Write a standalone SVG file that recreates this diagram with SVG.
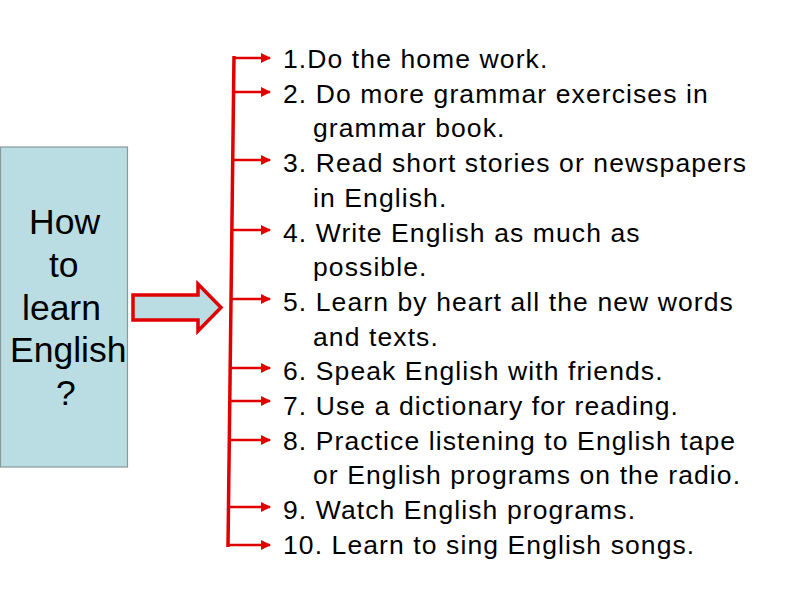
<svg xmlns="http://www.w3.org/2000/svg" width="800" height="600" viewBox="0 0 800 600">
<defs>
<marker id="ah" viewBox="0 0 10 10" refX="9" refY="5" markerWidth="4" markerHeight="4" orient="auto" markerUnits="strokeWidth">
<path d="M0,0 L10,5 L0,10 z" fill="#e00000"/>
</marker>
<style>
.t{font-family:"Liberation Sans",Arial,sans-serif;font-size:26.5px;letter-spacing:1.1px;fill:#000}
.b{font-family:"Liberation Sans",Arial,sans-serif;font-size:35.5px;fill:#000}
.br{stroke:#e00000;stroke-width:2.5;fill:none;marker-end:url(#ah)}
</style>
</defs>
<rect width="800" height="600" fill="#fff"/>
<g id="topic">
<rect x="0.5" y="147" width="127" height="320" fill="#b9dde2" stroke="#8a9a9c" stroke-width="1.2"/>
<text class="b" x="29" y="234">How</text>
<text class="b" x="49" y="277">to</text>
<text class="b" x="22" y="320">learn</text>
<text class="b" x="10" y="362">English</text>
<text class="b" x="56" y="405">?</text>
</g>
<g id="big-arrow">
<polygon points="133,295 198,295 198,284 221,307.5 198,331 198,320 133,320" fill="#b9dde2" stroke="#e00000" stroke-width="3.5" stroke-linejoin="miter"/>
</g>
<g id="connectors">
<line x1="234" y1="56" x2="228" y2="547" stroke="#e00000" stroke-width="3.5"/>
<line class="br" x1="234" y1="58" x2="270" y2="58"/>
<line class="br" x1="233.6" y1="92" x2="270" y2="92"/>
<line class="br" x1="232.8" y1="160" x2="270" y2="160"/>
<line class="br" x1="232" y1="230" x2="270" y2="230"/>
<line class="br" x1="231.1" y1="299" x2="270" y2="299"/>
<line class="br" x1="230.3" y1="368" x2="270" y2="368"/>
<line class="br" x1="229.9" y1="401" x2="270" y2="401"/>
<line class="br" x1="229.4" y1="440" x2="270" y2="440"/>
<line class="br" x1="228.6" y1="507" x2="270" y2="507"/>
<line class="br" x1="228.1" y1="545" x2="270" y2="545"/>
</g>
<g id="item1"><text class="t" x="283" y="68">1.Do the home work.</text></g>
<g id="item2"><text class="t" x="283" y="102.7">2. Do more grammar exercises in</text><text class="t" x="313" y="137.4">grammar book.</text></g>
<g id="item3"><text class="t" x="283" y="172.1">3. Read short stories or newspapers</text><text class="t" x="313" y="206.8">in English.</text></g>
<g id="item4"><text class="t" x="283" y="241.5">4. Write English as much as</text><text class="t" x="313" y="276.2">possible.</text></g>
<g id="item5"><text class="t" x="283" y="310.9">5. Learn by heart all the new words</text><text class="t" x="313" y="345.6">and texts.</text></g>
<g id="item6"><text class="t" x="283" y="380.3">6. Speak English with friends.</text></g>
<g id="item7"><text class="t" x="283" y="415">7. Use a dictionary for reading.</text></g>
<g id="item8"><text class="t" x="283" y="449.7">8. Practice listening to English tape</text><text class="t" x="313" y="484.4">or English programs on the radio.</text></g>
<g id="item9"><text class="t" x="283" y="519.1">9. Watch English programs.</text></g>
<g id="item10"><text class="t" x="283" y="553.8">10. Learn to sing English songs.</text></g>
</svg>
